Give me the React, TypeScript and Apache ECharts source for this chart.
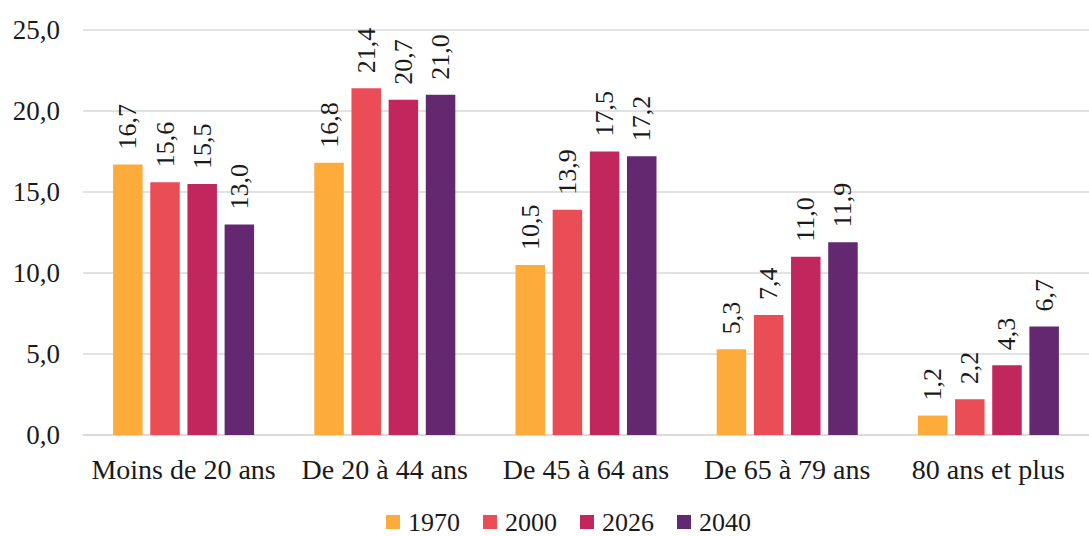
import React, { useEffect, useRef } from "react";
import * as echarts from "echarts";

const categories = ["Moins de 20 ans", "De 20 à 44 ans", "De 45 à 64 ans", "De 65 à 79 ans", "80 ans et plus"];
const seriesNames = ["1970", "2000", "2026", "2040"];
const values1970 = [16.7, 16.8, 10.5, 5.3, 1.2];
const values2000 = [15.6, 21.4, 13.9, 7.4, 2.2];
const values2026 = [15.5, 20.7, 17.5, 11.0, 4.3];
const values2040 = [13.0, 21.0, 17.2, 11.9, 6.7];
const colors = ["#FDAB3A", "#EB4D56", "#C1275D", "#63286F"];

const FONT = "'Liberation Serif', 'Times New Roman', serif";
const fmt = (v: number) => v.toFixed(1).replace(".", ",");

export default function App() {
  const ref = useRef<HTMLDivElement>(null);
  useEffect(() => {
    document.body.style.margin = "0";
    const chart = echarts.init(ref.current!, null, { renderer: "svg" });
    const data = [values1970, values2000, values2026, values2040];
    chart.setOption({
      animation: false,
      textStyle: { fontFamily: FONT },
      grid: { left: 83, width: 1018, top: 30, bottom: 101, containLabel: false },
      legend: {
        top: 509,
        left: 386,
        padding: 0,
        itemWidth: 14,
        itemHeight: 14,
        itemGap: 23,
        icon: "rect",
        textStyle: { fontFamily: FONT, fontSize: 26, lineHeight: 26, color: "#1a1a1a", padding: [0, 0, 0, 3] },
        data: seriesNames,
      },
      xAxis: {
        type: "category",
        data: categories,
        axisLine: { lineStyle: { color: "#D9D9D9", width: 1.5 } },
        axisTick: { show: false },
        axisLabel: { interval: 0, hideOverlap: false, fontFamily: FONT, fontSize: 28, color: "#1a1a1a", margin: 20 },
      },
      yAxis: {
        type: "value",
        min: 0,
        max: 25,
        interval: 5,
        axisLine: { show: false },
        axisTick: { show: false },
        splitLine: { lineStyle: { color: "#D9D9D9", width: 1.5 } },
        axisLabel: { fontFamily: FONT, fontSize: 27, color: "#1a1a1a", margin: 23, formatter: (v: number) => fmt(v) },
      },
      series: seriesNames.map((name, i) => ({
        name,
        type: "bar",
        data: data[i],
        barWidth: 29.5,
        barGap: "26%",
        itemStyle: { color: colors[i] },
        label: {
          show: true,
          position: "top",
          rotate: 90,
          align: "left",
          verticalAlign: "middle",
          distance: 15,
          fontFamily: FONT,
          fontSize: 26,
          color: "#1a1a1a",
          formatter: (p: any) => fmt(p.value),
        },
      })),
    });
    return () => chart.dispose();
  }, []);
  return <div ref={ref} style={{ width: 1089, height: 536 }} />;
}
